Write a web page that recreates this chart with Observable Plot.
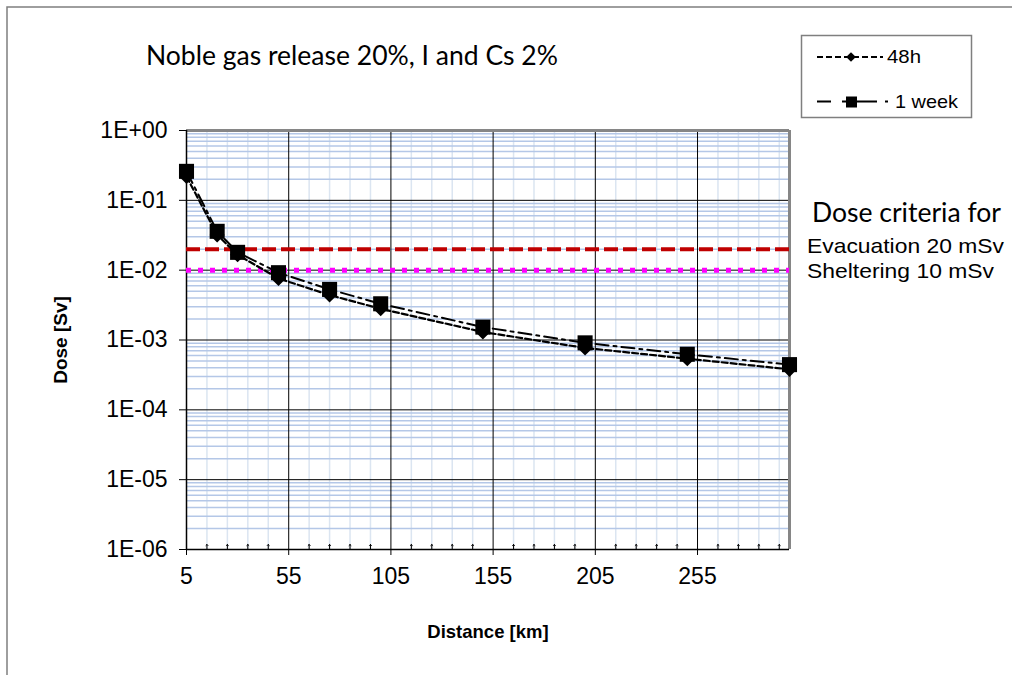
<!DOCTYPE html>
<html>
<head>
<meta charset="utf-8">
<script src="https://cdn.jsdelivr.net/npm/d3@7"></script>
<script src="https://cdn.jsdelivr.net/npm/@observablehq/plot@0.6"></script>
<style>
  body { margin: 0; background: #fff; }
  #wrap { position: relative; width: 1012px; height: 675px; overflow: hidden; }
  #wrap > svg { position: absolute; left: 0; top: 0; }
</style>
</head>
<body>
<div id="wrap"></div>
<script>
// Distance from the release point (km) and projected dose (Sv)
const distanceKm = [5, 20, 30, 50, 75, 100, 150, 200, 250, 300];
const dose48h    = [0.22, 0.032, 0.0166, 0.0076, 0.0044, 0.0028, 0.0013, 0.00077, 0.00054, 0.00038];
const dose1week  = [0.26, 0.036, 0.018, 0.0092, 0.0053, 0.0033, 0.00153, 0.00091, 0.000625, 0.000444];

// Dose criteria (Sv)
const evacuationSv = 0.02;
const shelteringSv = 0.01;

// Axis ticks
const xTicks = [5, 55, 105, 155, 205, 255];
const yTicks = [1e-6, 1e-5, 1e-4, 1e-3, 1e-2, 1e-1, 1];

const title = "Noble gas release 20%, I and Cs 2%";
const seriesNames = ["48h", "1 week"];

// Build tables for the marks
const rows48h = distanceKm.map((d, i) => ({distance: d, dose: dose48h[i]}));
const rows1week = distanceKm.map((d, i) => ({distance: d, dose: dose1week[i]}));

// Minor grid positions
const minorX = d3.range(15, 300, 10).filter(v => !xTicks.includes(v));
const minorY = yTicks.slice(0, -1).flatMap(p => d3.range(2, 10).map(m => m * p));

const expFormat = d => {
  const e = Math.round(Math.log10(d));
  return "1E" + (e < 0 ? "-" : "+") + String(Math.abs(e)).padStart(2, "0");
};

const chart = Plot.plot({
  width: 1012,
  height: 675,
  marginLeft: 186,
  marginRight: 223,
  marginTop: 130,
  marginBottom: 126,
  style: {fontFamily: "Liberation Sans, Arial, sans-serif", fontSize: "23px", color: "black", background: "transparent"},
  x: {domain: [5, 300]},
  y: {type: "log", domain: [1e-6, 1]},
  marks: [
    // minor grid
    Plot.ruleX(minorX, {stroke: "#dbe5f1", strokeWidth: 1.5}),
    Plot.ruleY(minorY, {stroke: "#b4c7e7", strokeWidth: 1.5}),
    // major grid
    Plot.ruleX(xTicks.slice(1), {stroke: "black", strokeWidth: 1}),
    Plot.ruleY(yTicks.slice(1, -1), {stroke: "black", strokeWidth: 1}),
    // plot-area border (top and right)
    Plot.ruleY([1], {stroke: "#868686", strokeWidth: 3}),
    Plot.ruleX([300], {stroke: "#868686", strokeWidth: 3}),
    // axis lines
    Plot.ruleX([5], {stroke: "black", strokeWidth: 1.5}),
    Plot.ruleY([1e-6], {stroke: "black", strokeWidth: 1.5}),
    // minor ticks along the distance axis (pointing inward)
    Plot.vectorX(minorX, {x: d => d, frameAnchor: "bottom", length: 5, anchor: "start", stroke: "black", strokeWidth: 1}),
    Plot.axisX({ticks: xTicks, tickSize: 6, tickPadding: 12, label: null, tickFormat: d => String(d), fontSize: 23}),
    Plot.axisY({ticks: yTicks, tickSize: 7, tickPadding: 12, label: null, tickFormat: expFormat, fontSize: 23}),
    // dose criteria
    Plot.ruleY([evacuationSv], {stroke: "#c00000", strokeWidth: 4, strokeDasharray: "14,5"}),
    Plot.ruleY([shelteringSv], {stroke: "#ff00ff", strokeWidth: 5, strokeDasharray: "5,7"}),
    // 48h series
    Plot.line(rows48h, {x: "distance", y: "dose", stroke: "black", strokeWidth: 2.2, strokeDasharray: "6,3"}),
    Plot.dot(rows48h, {x: "distance", y: "dose", symbol: "diamond2", r: 6.8, fill: "black", stroke: "none"}),
    // 1 week series
    Plot.line(rows1week, {x: "distance", y: "dose", stroke: "black", strokeWidth: 2, strokeDasharray: "13,5,3,5"}),
    Plot.dot(rows1week, {x: "distance", y: "dose", symbol: "square", r: 8.5, fill: "black", stroke: "none"})
  ]
});
document.getElementById("wrap").appendChild(chart);

// Annotations: outer frame, title, legend, axis titles, criteria text
const svg = d3.select("#wrap").append("svg")
  .attr("width", 1012).attr("height", 675)
  .style("font-family", "Liberation Sans, Arial, sans-serif");

svg.append("path").attr("d", "M7,675V7H1012").attr("fill", "none")
  .attr("stroke", "#7f7f7f").attr("stroke-width", 1.5);

svg.append("text").attr("x", 146).attr("y", 65)
  .attr("font-family", "Lato, 'Open Sans', sans-serif").attr("font-size", 26)
  .attr("textLength", 412).attr("lengthAdjust", "spacingAndGlyphs")
  .text(title);

// Legend
const lg = svg.append("g");
lg.append("rect").attr("x", 801.5).attr("y", 35.5).attr("width", 170).attr("height", 82)
  .attr("fill", "white").attr("stroke", "#7f7f7f").attr("stroke-width", 1.5);
lg.append("line").attr("x1", 817).attr("x2", 883).attr("y1", 57).attr("y2", 57)
  .attr("stroke", "black").attr("stroke-width", 2).attr("stroke-dasharray", "6,3");
lg.append("path").attr("d", d3.symbol(d3.symbolDiamond2, 60)()).attr("transform", "translate(851,57)");
lg.append("text").attr("x", 887).attr("y", 63).attr("font-size", 19)
  .attr("textLength", 34).attr("lengthAdjust", "spacingAndGlyphs").text(seriesNames[0]);
lg.append("line").attr("x1", 817).attr("x2", 889).attr("y1", 101.5).attr("y2", 101.5)
  .attr("stroke", "black").attr("stroke-width", 2).attr("stroke-dasharray", "14,11,35,8,3,20");
lg.append("rect").attr("x", 846).attr("y", 96.5).attr("width", 11).attr("height", 11).attr("fill", "black");
lg.append("text").attr("x", 895).attr("y", 108).attr("font-size", 19)
  .attr("textLength", 63).attr("lengthAdjust", "spacingAndGlyphs").text(seriesNames[1]);

// Axis titles
svg.append("text").attr("transform", "translate(67,340) rotate(-90)")
  .attr("text-anchor", "middle").attr("font-weight", "bold").attr("font-size", 19)
  .text("Dose [Sv]");
svg.append("text").attr("x", 488).attr("y", 638)
  .attr("text-anchor", "middle").attr("font-weight", "bold").attr("font-size", 18.5)
  .text("Distance [km]");

// Criteria text
svg.append("text").attr("x", 812).attr("y", 222)
  .attr("font-family", "Lato, 'Open Sans', sans-serif").attr("font-size", 26)
  .attr("textLength", 189).attr("lengthAdjust", "spacingAndGlyphs")
  .text("Dose criteria for");
svg.append("text").attr("x", 807).attr("y", 253).attr("font-size", 21)
  .attr("textLength", 197).attr("lengthAdjust", "spacingAndGlyphs")
  .text("Evacuation 20 mSv");
svg.append("text").attr("x", 807).attr("y", 278).attr("font-size", 21)
  .attr("textLength", 187).attr("lengthAdjust", "spacingAndGlyphs")
  .text("Sheltering 10 mSv");
</script>
</body>
</html>
